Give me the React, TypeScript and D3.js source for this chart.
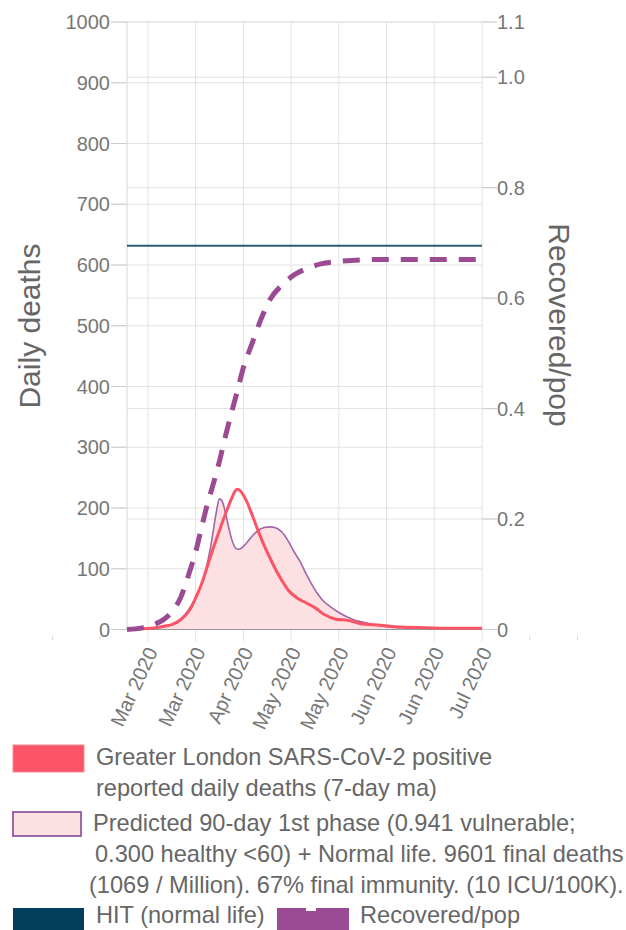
import React from "react";
import * as d3 from "d3";

// ---------- data ----------
const startDate = new Date(2020, 2, 7); // Mar 7 2020
const endDate = new Date(2020, 6, 4); // Jul 4 2020
const xTickDates = [
  "2020-02-11", "2020-02-27",
  "2020-03-14", "2020-03-30", "2020-04-15", "2020-05-01",
  "2020-05-17", "2020-06-02", "2020-06-18", "2020-07-04",
  "2020-07-20", "2020-08-05",
];
const xLabelFirst = 2;
const xLabelLast = 9;

const leftTicks = [0, 100, 200, 300, 400, 500, 600, 700, 800, 900, 1000];
const rightTicks = [0, 0.2, 0.4, 0.6, 0.8, 1.0, 1.1];
const rightTickLabels = ["0", "0.2", "0.4", "0.6", "0.8", "1.0", "1.1"];

// Greater London reported daily deaths (7-day ma); day offsets from Mar 7 2020
const reportedDays = [0, 4, 8, 12, 15, 18, 21, 23, 25, 27, 29, 31, 33, 35, 36, 37, 38, 40, 42, 44, 46, 48, 50, 52, 54, 57, 60, 63, 66, 70, 74, 78, 85, 92, 100, 110, 119];
const reportedDeaths = [0, 1, 2, 5, 8, 16, 32, 52, 75, 105, 135, 163, 190, 215, 226, 231, 228, 212, 188, 162, 138, 117, 97, 80, 65, 52, 44, 36, 25, 17, 15, 10, 7, 4, 3, 2, 2];

// Predicted daily deaths
const predictedDays = [0, 5, 9, 13, 16, 19, 22, 24, 26, 28, 29, 30, 31, 32, 33, 34, 35, 36, 37, 38, 40, 42, 44, 46, 48, 50, 52, 54, 56, 58, 60, 62, 64, 66, 68, 71, 76, 81, 85, 92, 100, 110, 119];
const predictedDeaths = [0, 1, 3, 5, 10, 22, 43, 62, 90, 135, 165, 195, 215, 210, 192, 170, 150, 137, 132, 133, 142, 154, 163, 168, 169, 167, 160, 146, 128, 112, 92, 74, 58, 46, 38, 28, 16, 10, 6, 3, 2, 1, 1];

// Recovered / population
const recoveredDays = [0, 5, 9, 12, 15, 18, 21, 23, 25, 27, 29, 31, 33, 35, 37, 39, 42, 45, 48, 52, 56, 60, 65, 72, 85, 119];
const recoveredShare = [0, 0.003, 0.009, 0.017, 0.032, 0.058, 0.105, 0.14, 0.185, 0.228, 0.265, 0.305, 0.35, 0.392, 0.432, 0.474, 0.519, 0.563, 0.598, 0.624, 0.642, 0.653, 0.662, 0.667, 0.67, 0.67];

const hitValue = 0.695;

const legendLines1 = ["Greater London SARS-CoV-2 positive", "reported daily deaths (7-day ma)"];
const legendLines2 = [
  "Predicted 90-day 1st phase (0.941 vulnerable;",
  "0.300 healthy <60) + Normal life. 9601 final deaths",
  "(1069 / Million). 67% final immunity. (10 ICU/100K).",
];
const legendHit = "HIT (normal life)";
const legendRecovered = "Recovered/pop";

// ---------- layout ----------
const W = 626;
const H = 930;
const plotLeft = 127;
const plotRight = 482;
const plotTop = 22;
const plotBottom = 629.5;
const FONT = "'Liberation Sans', Arial, sans-serif";

const RED = "#fb5466";
const PURPLE_LINE = "#a066a8";
const PINK = "#fde0e2";
const DASH = "#9b4b93";
const HIT = "#2a5c76";
const HIT_SWATCH = "#033f5c";
const GRID = "#e2e2e2";
const TICK_TEXT = "#777";
const TITLE_TEXT = "#666";

export default function App() {
  const x = d3.scaleTime().domain([startDate, endDate]).range([plotLeft, plotRight]);
  const yL = d3.scaleLinear().domain([0, 1000]).range([plotBottom, plotTop]);
  const yR = d3.scaleLinear().domain([0, 1.1]).range([plotBottom, plotTop]);
  const dayDate = (d: number) => d3.timeDay.offset(startDate, d);
  const parse = d3.timeParse("%Y-%m-%d");
  const fmt = d3.timeFormat("%b %Y");
  const ticks = xTickDates.map((s) => parse(s) as Date);

  const reported = reportedDays.map((d, i) => [dayDate(d), reportedDeaths[i]] as [Date, number]);
  const predicted = predictedDays.map((d, i) => [dayDate(d), predictedDeaths[i]] as [Date, number]);
  const recovered = recoveredDays.map((d, i) => [dayDate(d), recoveredShare[i]] as [Date, number]);

  const lineL = d3
    .line<[Date, number]>()
    .x((p) => x(p[0]))
    .y((p) => yL(p[1]))
    .curve(d3.curveMonotoneX);
  const areaL = d3
    .area<[Date, number]>()
    .x((p) => x(p[0]))
    .y0(yL(0))
    .y1((p) => yL(p[1]))
    .curve(d3.curveMonotoneX);
  const lineR = d3
    .line<[Date, number]>()
    .x((p) => x(p[0]))
    .y((p) => yR(p[1]))
    .curve(d3.curveMonotoneX);

  const legX = 96;
  const LFS = 23.6;
  return (
    <svg
      width={W}
      height={H}
      style={{ position: "absolute", left: 0, top: 0, background: "#fff" }}
      fontFamily={FONT}
    >
      {/* horizontal gridlines & ticks */}
      {leftTicks.map((t) => (
        <g key={"l" + t}>
          <line x1={plotLeft - 16} x2={plotRight} y1={yL(t)} y2={yL(t)} stroke={t === 0 ? "none" : GRID} />
          <line x1={plotLeft - 16} x2={plotLeft} y1={yL(t)} y2={yL(t)} stroke="#ccc" />
          <text x={plotLeft - 17} y={yL(t)} dy="0.35em" textAnchor="end" fontSize={20} fill={TICK_TEXT}>
            {t}
          </text>
        </g>
      ))}
      {rightTicks.map((t, i) => (
        <g key={"r" + t}>
          <line x1={plotLeft} x2={plotRight + 15} y1={yR(t)} y2={yR(t)} stroke={t === 0 ? "none" : GRID} />
          <line x1={plotRight} x2={plotRight + 15} y1={yR(t)} y2={yR(t)} stroke="#ccc" />
          <text x={plotRight + 15} y={yR(t)} dy="0.35em" textAnchor="start" fontSize={20} fill={TICK_TEXT}>
            {rightTickLabels[i]}
          </text>
        </g>
      ))}
      {/* vertical gridlines */}
      <line x1={plotLeft} x2={plotLeft} y1={plotTop} y2={plotBottom} stroke="#d6d6d6" />
      {ticks.map((t, i) => {
        const inside = i >= xLabelFirst && i <= xLabelLast;
        return (
          <g key={"x" + i}>
            {inside && <line x1={x(t)} x2={x(t)} y1={plotTop} y2={plotBottom + 12} stroke={GRID} />}
            {!inside && <line x1={x(t)} x2={x(t)} y1={plotBottom + 6} y2={plotBottom + 11} stroke="#ddd" />}
            {inside && (
              <text
                transform={`translate(${x(t) + 4},${plotBottom + 19}) rotate(-65)`}
                textAnchor="end"
                dy="0.35em"
                fontSize={20}
                fill={TICK_TEXT}
              >
                {fmt(t)}
              </text>
            )}
          </g>
        );
      })}

      {/* predicted area & line */}
      <path d={areaL(predicted) || ""} fill={PINK} />
      <path d={lineL(predicted) || ""} fill="none" stroke={PURPLE_LINE} strokeWidth={1.6} />
      {/* baseline */}
      <line x1={plotLeft} x2={plotRight} y1={plotBottom} y2={plotBottom} stroke="#999" strokeWidth={1.2} />
      {/* reported */}
      <path d={lineL(reported) || ""} fill="none" stroke={RED} strokeWidth={3} strokeLinejoin="round" />
      {/* recovered dashed */}
      <path d={lineR(recovered) || ""} fill="none" stroke={DASH} strokeWidth={5} strokeDasharray="17,12" />
      {/* HIT */}
      <line x1={plotLeft} x2={plotRight} y1={yR(hitValue)} y2={yR(hitValue)} stroke={HIT} strokeWidth={2} />

      {/* axis titles */}
      <text transform={`translate(40,326) rotate(-90)`} textAnchor="middle" fontSize={30} fill={TITLE_TEXT}>
        Daily deaths
      </text>
      <text transform={`translate(549,325) rotate(90)`} textAnchor="middle" fontSize={30} fill={TITLE_TEXT}>
        Recovered/pop
      </text>

      {/* legend */}
      <rect x={13} y={745} width={71} height={27} fill={RED} stroke="#fb8a95" />
      {legendLines1.map((s, i) => (
        <text key={"a" + i} x={legX} y={765 + i * 31} fontSize={LFS} fill={TITLE_TEXT}>
          {s}
        </text>
      ))}
      <rect x={13} y={812} width={68} height={24} fill={PINK} stroke={PURPLE_LINE} strokeWidth={2} />
      {legendLines2.map((s, i) => (
        <text key={"b" + i} x={legX - (i === 2 ? 7 : i === 0 ? 3 : 1)} y={831 + i * 31} fontSize={LFS} fill={TITLE_TEXT}>
          {s}
        </text>
      ))}
      <rect x={13} y={908} width={71} height={30} fill={HIT_SWATCH} />
      <text x={legX} y={923} fontSize={LFS} fill={TITLE_TEXT}>
        {legendHit}
      </text>
      <rect x={277} y={908} width={72} height={30} fill={DASH} />
      <rect x={306} y={906} width={10} height={5} fill="#fff" />
      <text x={360} y={923} fontSize={LFS} fill={TITLE_TEXT}>
        {legendRecovered}
      </text>
    </svg>
  );
}
